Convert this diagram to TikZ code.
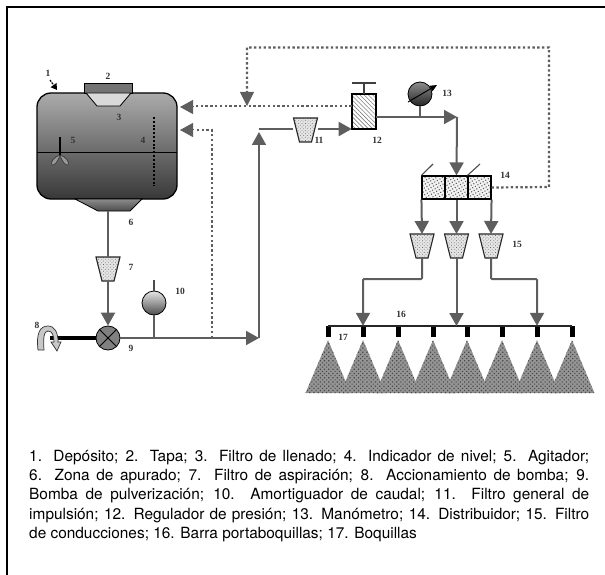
\documentclass[tikz,border=0pt]{standalone}
\usepackage{fontspec}
\setmainfont{TeX Gyre Heros}
\newfontfamily\numfont{Liberation Serif}
\usepackage{xcolor}
\usetikzlibrary{calc,arrows.meta,patterns,patterns.meta}
\definecolor{pipe}{HTML}{5E5E5E}
\definecolor{tankhi}{HTML}{ABABAB}
\definecolor{tanklo}{HTML}{383838}
\tikzset{
  pipeline/.style={pipe,line width=2pt},
  bigtip/.style={-{Triangle[length=13pt,width=14pt]}},
  dotline/.style={pipe,line width=2.2pt,line cap=butt,dash pattern=on 2.4pt off 2.4pt},
  stipple/.style={preaction={fill=black!10},pattern={Dots[distance=2.4pt,radius=0.5pt,angle=45]},pattern color=black!60},
  filterbox/.style={draw=black!85,line width=1.1pt,stipple},
  num/.style={font=\numfont\bfseries\fontsize{9.5}{10}\selectfont,text=black!80,inner sep=0pt},
  ball/.style={circle,draw=black,line width=0.8pt,minimum size=24pt,inner sep=0pt,top color=black!10,bottom color=black!70},
  distbox/.style={draw=black,line width=1.1pt,minimum width=23pt,minimum height=23pt,inner sep=0pt,preaction={fill=black!5},pattern={Dots[distance=3pt,radius=0.75pt,angle=30]},pattern color=black!65},
}
\newcommand{\filtercup}[3]{% name, centre x, top y
  \node[inner sep=0pt,minimum size=0pt] (#1) at (#2,#3+12) {};
  \draw[filterbox] (#2-12,#3)--(#2+12,#3)--(#2+6,#3+24)--(#2-6,#3+24)--cycle;
  \coordinate (#1in) at (#2,#3);
  \coordinate (#1out) at (#2,#3+24);}
\begin{document}
\begin{tikzpicture}[x=1pt,y=-1pt]
\useasboundingbox (0,0) rectangle (605,575);
\draw[black,line width=1.2pt] (7,575)--(7,7)--(605,7);
% deposito
\draw[draw=black,line width=1.3pt,top color=tankhi,bottom color=tanklo,rounded corners=14pt] (37,93) rectangle (177,199);
\coordinate (tankA) at (180,107);
\coordinate (tankB) at (180,130);
\draw[black,line width=1pt] (37,153)--(177,153);
\draw[draw=black,line width=0.8pt,fill=black!55] (84,83) rectangle (132,93);
\draw[draw=black,line width=0.8pt,fill=black!15] (86,93)--(131,93)--(120,106)--(97,106)--cycle;
\draw[black,line width=2pt,dash pattern=on 2pt off 1.8pt] (154,117)--(154,186);
\draw[black,line width=1.5pt] (60,137)--(60,156);
\draw[draw=black!80,line width=0.6pt,fill=black!40] (60,155) .. controls (54,157) and (50,162) .. (52,165) .. controls (55,166) and (58,160) .. (60,156) .. controls (62,160) and (65,166) .. (68,165) .. controls (70,162) and (66,157) .. (60,155);
\draw[draw=black,line width=0.8pt,top color=black!45,bottom color=black!70] (75,199)--(142,199)--(130,211)--(98,211)--cycle;
\node[num] (n1) at (48,73) {1};
\draw[black,line width=1.2pt,dash pattern=on 2pt off 1pt,-{Triangle[length=6pt,width=7pt]}] (50,80)--(57,90);
% succion
\filtercup{filtA}{108}{257}
\node[circle,draw=black,line width=0.8pt,fill=black!50,minimum size=24pt,inner sep=0pt] (pump) at (108,338) {};
\draw[black,line width=1pt] (pump.45)--(pump.225) (pump.135)--(pump.315);
\coordinate (tankout) at (108,211);
\draw[pipeline] (tankout)--(filtAin);
\draw[pipeline,bigtip] (filtAout)--(pump.north);
\coordinate (shaft) at (50,338);
\draw[black,line width=4.5pt] (shaft)--(pump.west);
\draw[draw=black!80,line width=0.7pt,fill=black!22] (38,350) .. controls (36,333) and (40,326) .. (48,326) .. controls (55,326) and (58,333) .. (58,342) -- (61,342) -- (57,351) -- (51,342) -- (54,342) .. controls (54,335) and (52,331) .. (48,331) .. controls (44,331) and (43,338) .. (44,350) -- cycle;
% impulsion
\coordinate (riser) at (259,338);
\coordinate (topleft) at (259,129);
\draw[pipeline,bigtip] (pump.east)--(riser);
\draw[pipeline,bigtip] (riser)--(259,132);
\filtercup{filtB}{305.5}{118}
\node[draw=black,line width=1.1pt,minimum width=24pt,minimum height=35pt,inner sep=0pt,pattern={Lines[angle=-45,distance=3pt,line width=0.6pt]},pattern color=black!50] (reg) at (364,111.5) {};
\draw[pipeline] (topleft)--(293,129);
\draw[pipeline,bigtip] (318,129)--(reg.west |- 0,129);
\draw[pipeline,black!75] (reg.north)--(364,83);
\draw[black!75,line width=1.2pt] (352,83)--(376,83);
\node[ball] (damper) at (154,303) {};
\draw[pipeline] (damper.south)--(154,338);
\draw[black!70,line width=2pt] (damper.north)--(154,280);
\node[ball,top color=black!45,bottom color=black!85] (gauge) at (420,94) {};
\coordinate (elbow) at (457,117);
\draw[pipeline,bigtip] (reg.east |- 0,117)--(elbow);
\draw[pipeline] (gauge.south)--(420,117);
\draw[black,line width=1pt,-{Triangle[length=7pt,width=6pt]}] (408,102)--(437,85);
% distribuidor
\node[distbox] (distA) at (433.5,187.5) {};
\node[distbox] (distB) at (456.5,187.5) {};
\node[distbox] (distC) at (479.5,187.5) {};
\draw[black!70,line width=1.1pt] (distA.north west)--(433,164) (distC.north west)--(480,164);
\draw[pipeline,bigtip] (elbow)--(distB.north);
\filtercup{filtC}{422}{234}
\filtercup{filtD}{456.5}{234}
\filtercup{filtE}{491}{234}
\draw[pipeline,bigtip] (distA.south west)--(filtCin);
\draw[pipeline,bigtip] (distB.south)--(filtDin);
\draw[pipeline,bigtip] (distC.south east)--(filtEin);
% barra
\foreach \i/\nx in {1/328,2/363,3/398,4/433,5/467,6/502,7/537,8/572}{
  \fill[preaction={fill=black!42},pattern={Dots[distance=3pt,radius=0.8pt,angle=45]},pattern color=black!72] (\nx,340)--(\nx+22.5,393)--(\nx-22.5,393)--cycle;
  \node[fill=black,minimum width=5pt,minimum height=11pt,inner sep=0pt] (noz\i) at (\nx,331.5) {};}
\draw[black!85,line width=1.6pt] (noz1.north)--(noz8.north);
\draw[pipeline,bigtip,rounded corners=1pt] (filtCout)--(422,279)--(363,279)--(noz2.north);
\draw[pipeline,bigtip] (filtDout)--(456.5,326);
\draw[pipeline,bigtip,rounded corners=1pt] (filtEout)--(491,279)--(537,279)--(noz7.north);
% retornos
\draw[dotline] (reg.west |- 0,106)--(195,106);
\draw[pipe,line width=1pt,{Triangle[length=13pt,width=14pt]}-] (tankA)--(193,107);
\draw[dotline] (distC.east)--(549,187)--(549,47.5)--(247,47.5)--(247,92);
\draw[pipe,-{Triangle[length=14pt,width=14pt]},line width=1pt] (247,92)--(247,106);
\draw[dotline] (212,338)--(212,130)--(195,130);
\draw[pipe,line width=1pt,{Triangle[length=13pt,width=14pt]}-] (tankB)--(193,130);
% numeros
\node[num] (n2) at (108,76) {2};
\node[num] (n3) at (119,117) {3};
\node[num] (n4) at (143,140) {4};
\node[num] (n5) at (73,140) {5};
\node[num] (n6) at (131,222) {6};
\node[num] (n7) at (131,267) {7};
\node[num] (n8) at (37,325) {8};
\node[num] (n9) at (131,348) {9};
\node[num] (n10) at (180,291) {10};
\node[num] (n11) at (319,140) {11};
\node[num] (n12) at (377,140) {12};
\node[num] (n13) at (447,93) {13};
\node[num] (n14) at (505,175) {14};
\node[num] (n15) at (517,244) {15};
\node[num] (n16) at (401,314) {16};
\node[num] (n17) at (343,337) {17};
\node[anchor=north west,inner sep=0pt,text width=560pt,align=justify,font=\fontsize{15.4}{19.2}\selectfont] (legend) at (29,450) {1. Depósito; 2. Tapa; 3. Filtro de llenado; 4. Indicador de nivel; 5. Agitador;\linebreak 6. Zona de apurado; 7. Filtro de aspiración; 8. Accionamiento de bomba; 9.\linebreak Bomba de pulverización; 10. Amortiguador de caudal; 11. Filtro general de\linebreak impulsión; 12. Regulador de presión; 13. Manómetro; 14. Distribuidor; 15. Filtro\linebreak de conducciones; 16. Barra portaboquillas; 17. Boquillas};
\end{tikzpicture}
\end{document}
